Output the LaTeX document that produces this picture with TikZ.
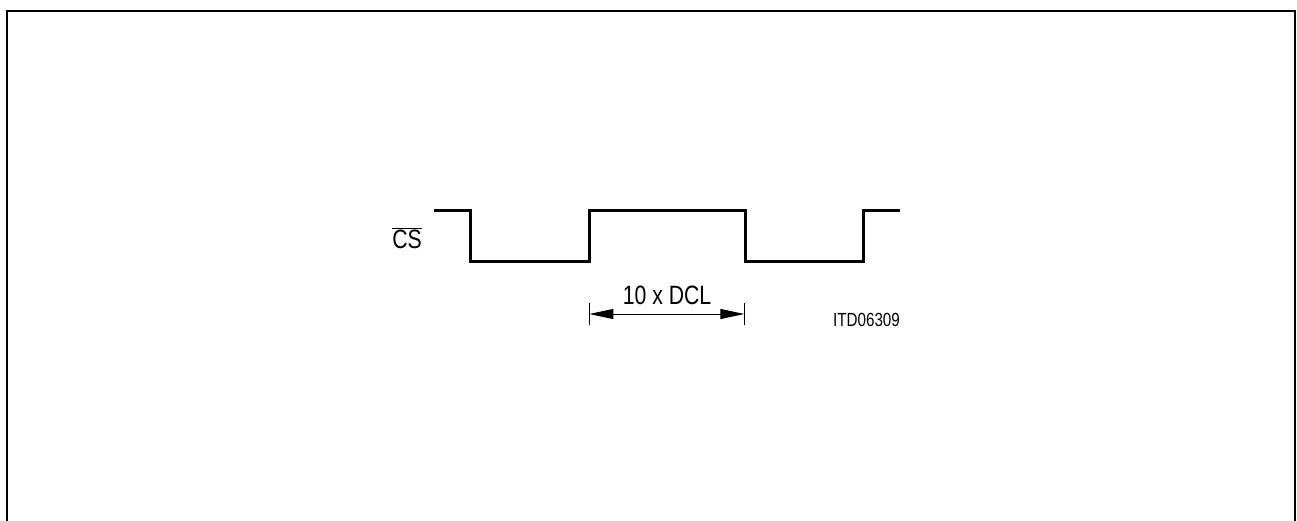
\documentclass[tikz,border=0pt]{standalone}
\usepackage{fontspec}
\setmainfont{Liberation Sans}[FakeStretch=0.8]
\usepackage{tikz}
\usetikzlibrary{arrows.meta}

\begin{document}
\begin{tikzpicture}[x=1pt, y=-1pt,
          frame/.style={line width=2pt},
          wave/.style={line width=3pt, line join=miter},
          tick/.style={line width=1pt},
          dim/.style={{Triangle[length=24pt,width=10pt]}-{Triangle[length=24pt,width=10pt]}, line width=1pt},
          label/.style={inner sep=0pt, font=\fontsize{26.5}{30}\selectfont},
          code/.style={inner sep=0pt, font=\fontsize{19}{22}\selectfont}
        ]
          \useasboundingbox (0,0) rectangle (1297,520);
          \draw[frame] (6.5,522) -- (6.5,10.5) -- (1294.5,10.5) -- (1294.5,522);

          % chip select signal
          \node[label] (cs) at (407,238) {$\overline{\mbox{CS}}$};
          \draw[wave] (434,210.7) -- (470.7,210.7) -- (470.7,261.7) -- (589.3,261.7)
            -- (589.3,210.7) -- (745,210.7) -- (745,261.7) -- (863,261.7)
            -- (863,210.7) -- (900,210.7);

          % pulse width
          \coordinate (dimL) at (589.3,314);
          \coordinate (dimR) at (744.3,314);
          \draw[tick] (589.3,303) -- (589.3,325);
          \draw[tick] (744.3,303) -- (744.3,325);
          \draw[dim] (dimL) -- (dimR);
          \node[label] (dcl) at (667,295) {10 x DCL};
          \node[code] (itd) at (866.5,320) {ITD06309};
        \end{tikzpicture}
\end{document}
